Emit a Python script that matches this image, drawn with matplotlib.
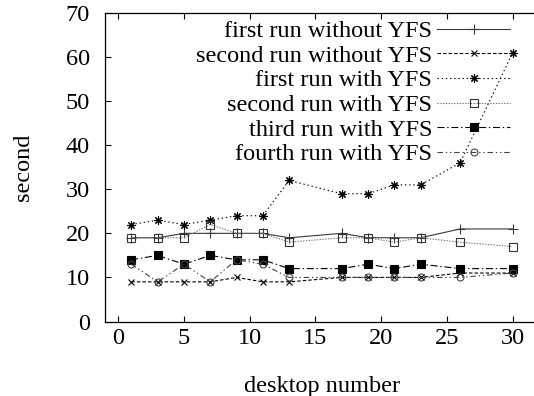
import matplotlib
matplotlib.use("Agg")
import matplotlib.pyplot as plt

plt.rcParams["font.family"] = ["Liberation Serif", "DejaVu Serif"]
plt.rcParams["lines.scale_dashes"] = False

desktops = [1, 3, 5, 7, 9, 11, 13, 17, 19, 21, 23, 26, 30]

first_without = [19, 19, 20, 20, 20, 20, 19, 20, 19, 19, 19, 21, 21]
second_without = [9, 9, 9, 9, 10, 9, 9, 10, 10, 10, 10, 11, 11]
first_with = [22, 23, 22, 23, 24, 24, 32, 29, 29, 31, 31, 36, 61]
second_with = [19, 19, 19, 22, 20, 20, 18, 19, 19, 18, 19, 18, 17]
third_with = [14, 15, 13, 15, 14, 14, 12, 12, 13, 12, 13, 12, 12]
fourth_with = [13, 9, 13, 9, 14, 13, 10, 10, 10, 10, 10, 10, 11]

labels = [
    "first run without YFS",
    "second run without YFS",
    "first run with YFS",
    "second run with YFS",
    "third run with YFS",
    "fourth run with YFS",
]
series = [first_without, second_without, first_with, second_with, third_with, fourth_with]

styles = [
    dict(color="#3a3a3a", ls="-", marker="+", ms=6.5, mfc="none"),
    dict(color="black", ls=(0, (2.5, 1.5)), marker="x", ms=5, mfc="none"),
    dict(color="black", ls=(0, (1, 2)), marker=(8, 2, 0), ms=6, mfc="none"),
    dict(color="#777777", ls=(0, (1, 1)), marker="s", ms=5.5, mfc="none", mec="#333333"),
    dict(color="black", ls=(0, (5, 2, 1, 2)), marker="s", ms=6, mfc="black"),
    dict(color="#444444", ls=(0, (4, 2, 1, 2, 1, 2)), marker="o", ms=5, mfc="none"),
]

FS = 17.5
W, H = 534, 396
fig = plt.figure(figsize=(W / 100, H / 100), dpi=100)
left, right, bottom, top = 105, 539, 321.5, 13
ax = fig.add_axes([left / W, 1 - bottom / H, (right - left) / W, (bottom - top) / H])

for ys, lab, st in zip(series, labels, styles):
    ax.plot(desktops, ys, label=lab, lw=0.8, mew=0.8, **st)

ax.set_xlim(-1, 32)
ax.set_ylim(0, 70)
ax.set_xticks(range(0, 31, 5))
ax.set_yticks(range(0, 71, 10))
ax.tick_params(direction="in", length=4, width=0.8, labelsize=FS,
               top=True, right=False)
ax.tick_params(axis="x", pad=5)
ax.tick_params(axis="y", pad=11)
ax.spines["right"].set_visible(False)
for s in ax.spines.values():
    s.set_linewidth(0.9)

ax.set_xlabel("desktop number", fontsize=FS, labelpad=19)
ax.set_ylabel("second", fontsize=FS, labelpad=23)

leg = ax.legend(
    loc="upper right",
    bbox_to_anchor=((510 - left) / (right - left), (bottom - 20) / (bottom - top)),
    frameon=False,
    markerfirst=False,
    fontsize=FS,
    handlelength=3.0,
    handletextpad=0.2,
    labelspacing=0.11,
    borderpad=0,
    borderaxespad=0,
)

fig.savefig("out.png", dpi=100)
